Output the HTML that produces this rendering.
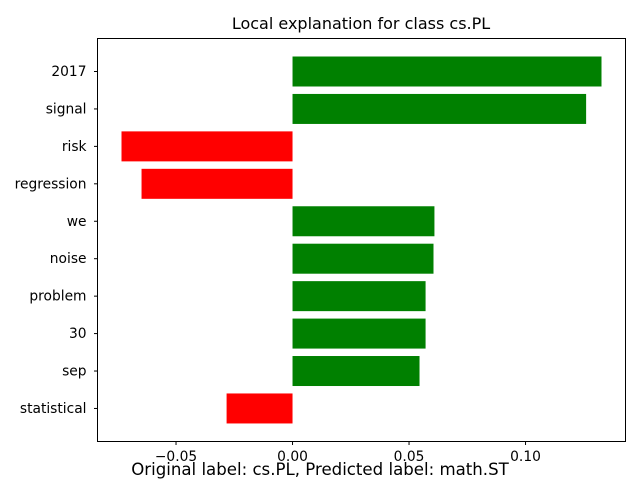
<!DOCTYPE html>
<html><head><meta charset="utf-8"><style>
body{margin:0;background:#fff;}
svg{display:block;font-family:"DejaVu Sans","Liberation Sans",sans-serif;}
</style></head><body>
<svg id="chart" width="640" height="480">
<text x="361" y="29" font-size="16" text-anchor="middle">Local explanation for class cs.PL</text>
<g id="bars"></g>
<rect x="97.5" y="38.5" width="528" height="403" fill="none" stroke="#000" stroke-width="1"/>
<g id="axes"></g>
<text x="320" y="475" font-size="16.6" text-anchor="middle">Original label: cs.PL, Predicted label: math.ST</text>
</svg>
<script>
const features = ["2017","signal","risk","regression","we","noise","problem","30","sep","statistical"];
const weights = [0.1326,0.126,-0.0734,-0.0648,0.0609,0.0605,0.0571,0.0571,0.0545,-0.0283];
const xTicks = [-0.05,0,0.05,0.1];
const xTickLabels = ["−0.05","0.00","0.05","0.10"];
const NS="http://www.w3.org/2000/svg";
const xMin=-0.0837,xMax=0.1429,L=97.5,R=625.5;
function xs(v){return L+(v-xMin)/(xMax-xMin)*(R-L);}
function ys(i){return 71.5+i*37.44;}
const bh=30;
const bars=document.getElementById('bars'),axes=document.getElementById('axes');
function mk(tag,attrs,parent){const e=document.createElementNS(NS,tag);for(const k in attrs)e.setAttribute(k,attrs[k]);parent.appendChild(e);return e;}
features.forEach((f,i)=>{
  const w=weights[i];const x0=xs(Math.min(0,w)),x1=xs(Math.max(0,w));
  const r=mk('rect',{x:x0,y:ys(i)-bh/2,width:x1-x0,height:bh,fill:w>=0?'#008000':'#ff0000'},bars);
  
  
  const t=mk('line',{x1:L-3.5,x2:L,y1:ys(i),y2:ys(i),stroke:'#000'},axes);
  
  
  const lb=mk('text',{x:L-11,y:ys(i)+4.5,'font-size':13.8,'text-anchor':'end'},axes);
  lb.textContent=f;
  
  
});
xTicks.forEach((v,i)=>{
  const x=xs(v);
  const t=mk('line',{x1:x,x2:x,y1:441.5,y2:445,stroke:'#000'},axes);
  
  
  const lb=mk('text',{x:x,y:461,'font-size':13.8,'text-anchor':'middle'},axes);
  lb.textContent=xTickLabels[i];
  
  
});
</script>
</body></html>
